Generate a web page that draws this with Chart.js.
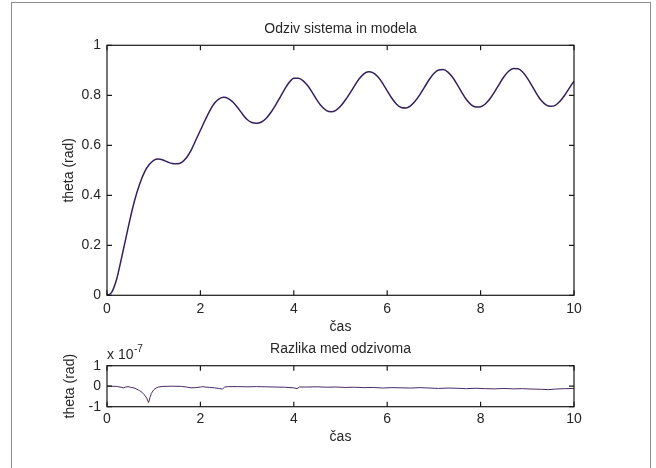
<!DOCTYPE html>
<html><head><meta charset="utf-8">
<script src="https://cdn.jsdelivr.net/npm/chart.js@4/dist/chart.umd.min.js"></script>
<style>
html,body{margin:0;padding:0;background:#fff;overflow:hidden;width:656px;height:468px;}
#frame{position:absolute;left:11px;top:2px;width:640px;height:520px;border:1px solid #8c8c8c;box-sizing:border-box;}
#c1{position:absolute;left:0;top:0;}
#c2{position:absolute;left:0;top:340px;}
</style></head><body>
<div id="frame"></div>
<canvas id="c1" width="656" height="340"></canvas>
<canvas id="c2" width="656" height="128"></canvas>
<script>
// ---- data ----
const responseTime = [
 0.0,0.1,0.2,0.3,0.4,0.5,0.6,0.7,0.8,0.9,
 1.0,1.1,1.2,1.3,1.4,1.5,1.6,1.7,1.8,1.9,
 2.0,2.1,2.2,2.3,2.4,2.5,2.6,2.7,2.8,2.9,
 3.0,3.1,3.2,3.3,3.4,3.5,3.6,3.7,3.8,3.9,
 4.0,4.1,4.2,4.3,4.4,4.5,4.6,4.7,4.8,4.9,
 5.0,5.1,5.2,5.3,5.4,5.5,5.6,5.7,5.8,5.9,
 6.0,6.1,6.2,6.3,6.4,6.5,6.6,6.7,6.8,6.9,
 7.0,7.1,7.2,7.3,7.4,7.5,7.6,7.7,7.8,7.9,
 8.0,8.1,8.2,8.3,8.4,8.5,8.6,8.7,8.8,8.9,
 9.0,9.1,9.2,9.3,9.4,9.5,9.6,9.7,9.8,9.9,
 10.0];
const responseTheta = [
 0.000,0.012,0.060,0.140,0.225,0.310,0.385,0.445,0.492,0.522,
 0.540,0.545,0.541,0.533,0.527,0.526,0.532,0.550,0.580,0.620,
 0.660,0.700,0.738,0.768,0.786,0.792,0.787,0.772,0.750,0.725,
 0.703,0.691,0.688,0.692,0.706,0.729,0.758,0.790,0.823,0.851,
 0.868,0.868,0.858,0.838,0.810,0.780,0.755,0.739,0.734,0.740,
 0.756,0.780,0.808,0.838,0.866,0.886,0.894,0.890,0.874,0.849,
 0.818,0.788,0.764,0.751,0.749,0.758,0.777,0.803,0.833,0.863,
 0.887,0.901,0.903,0.893,0.872,0.843,0.811,0.782,0.762,0.753,
 0.754,0.765,0.786,0.814,0.845,0.874,0.896,0.907,0.906,0.893,
 0.869,0.838,0.806,0.779,0.762,0.756,0.760,0.776,0.800,0.829,
 0.857];
// difference, in units of 1e-7 rad
const diffTime = [
 0.0,0.1,0.2,0.3,0.35,0.4,0.45,0.5,0.6,0.7,0.75,0.8,0.85,0.89,0.92,0.95,1.0,1.05,1.1,1.2,
 1.4,1.6,1.7,1.8,1.9,2.0,2.05,2.1,2.2,2.3,2.4,2.47,2.52,2.6,2.8,3.0,3.2,3.4,3.6,3.8,
 4.0,4.07,4.12,4.3,4.5,4.7,4.9,5.1,5.3,5.5,5.7,5.9,6.1,6.3,6.5,6.7,6.9,7.1,7.3,7.5,
 7.7,7.9,8.1,8.3,8.5,8.7,8.9,9.1,9.3,9.45,9.6,9.8,10.0];
const diffValue = [
 0.00,0.00,-0.01,-0.05,-0.08,-0.04,-0.02,-0.05,-0.10,-0.22,-0.30,-0.42,-0.58,-0.80,-0.55,-0.35,-0.18,-0.09,-0.04,-0.01,
 0.00,-0.01,-0.04,-0.08,-0.07,-0.04,-0.02,-0.04,-0.06,-0.08,-0.11,-0.14,-0.04,-0.02,-0.02,-0.03,-0.02,-0.03,-0.04,-0.05,
 -0.08,-0.12,-0.04,-0.04,-0.03,-0.05,-0.04,-0.06,-0.05,-0.07,-0.06,-0.09,-0.07,-0.08,-0.09,-0.07,-0.09,-0.11,-0.09,-0.10,
 -0.12,-0.10,-0.12,-0.13,-0.11,-0.13,-0.12,-0.14,-0.15,-0.17,-0.14,-0.12,-0.11];
const xTicks = [0,2,4,6,8,10];
const topYTicks = [0,0.2,0.4,0.6,0.8,1];
const bottomYTicks = [-1,0,1];

const FONT = "'Liberation Sans', Arial, Helvetica, sans-serif";
const TXT = '#262626';

const boxTicks = {
  id: 'boxTicks',
  afterDraw(chart) {
    const {ctx, chartArea: {left, right, top, bottom}, scales: {x, y}} = chart;
    ctx.save();
    ctx.strokeStyle = '#1a1a1a';
    ctx.lineWidth = 1.2;
    const L = 5;
    ctx.beginPath();
    x.ticks.forEach(t => {
      const px = x.getPixelForValue(t.value);
      ctx.moveTo(px, bottom); ctx.lineTo(px, bottom - L);
      ctx.moveTo(px, top); ctx.lineTo(px, top + L);
    });
    y.ticks.forEach(t => {
      const py = y.getPixelForValue(t.value);
      ctx.moveTo(left, py); ctx.lineTo(left + L, py);
      ctx.moveTo(right, py); ctx.lineTo(right - L, py);
    });
    ctx.stroke();
    ctx.strokeRect(left, top, right - left, bottom - top);
    ctx.restore();
  }
};

const exponentLabel = {
  id: 'exponentLabel',
  afterDraw(chart) {
    const {ctx, chartArea: {left, top}} = chart;
    ctx.save();
    ctx.fillStyle = TXT;
    ctx.textBaseline = 'alphabetic';
    ctx.textAlign = 'left';
    ctx.font = '14px ' + FONT;
    const base = 'x 10';
    ctx.fillText(base, left, top - 7);
    const w = ctx.measureText(base).width;
    ctx.font = '10px ' + FONT;
    ctx.fillText('-7', left + w + 0.5, top - 13.5);
    ctx.restore();
  }
};

function makeChart(id, opts) {
  const points = opts.xs.map((v, i) => ({x: v, y: opts.ys[i]}));
  return new Chart(document.getElementById(id), {
    type: 'line',
    data: { datasets: [{
      data: points,
      borderColor: opts.color,
      borderWidth: opts.lw,
      pointRadius: 0,
      fill: false,
      tension: opts.tension,
      cubicInterpolationMode: opts.tension ? 'monotone' : 'default'
    }]},
    options: {
      responsive: false,
      animation: false,
      devicePixelRatio: 1,
      events: [],
      layout: { padding: { left: 0, right: 82, top: 0, bottom: 0 } },
      plugins: {
        legend: { display: false },
        tooltip: { enabled: false },
        title: {
          display: true, text: opts.title, color: TXT, fullSize: false,
          font: { family: FONT, size: 14, weight: 'normal', lineHeight: 1.2 },
          padding: opts.titlePad
        }
      },
      scales: {
        x: {
          type: 'linear', min: 0, max: 10,
          afterBuildTicks: s => { s.ticks = xTicks.map(v => ({value: v})); },
          afterFit: s => { s.height = opts.xHeight; },
          grid: { display: false, drawTicks: false },
          border: { display: false },
          ticks: { color: TXT, padding: opts.xTickPad, maxRotation: 0, font: { family: FONT, size: 14 } },
          title: { display: true, text: 'čas', color: TXT, font: { family: FONT, size: 14 }, padding: { top: 0, bottom: opts.xTitlePad } }
        },
        y: {
          type: 'linear', min: opts.ymin, max: opts.ymax,
          afterBuildTicks: s => { s.ticks = opts.yTicks.map(v => ({value: v})); },
          afterFit: s => { s.width = 107; },
          grid: { display: false, drawTicks: false },
          border: { display: false },
          ticks: { color: TXT, padding: 6, font: { family: FONT, size: 14 }, callback: v => String(v) },
          title: { display: true, text: 'theta (rad)', color: TXT, font: { family: FONT, size: 14 }, padding: { top: opts.yTitlePad, bottom: 0 } }
        }
      }
    },
    plugins: opts.plugins
  });
}

makeChart('c1', {
  xs: responseTime, ys: responseTheta, color: '#33205c', lw: 1.5, tension: 0.4,
  title: 'Odziv sistema in modela', titlePad: { top: 21, bottom: 7.5 },
  xHeight: 44.7, xTickPad: 5, xTitlePad: 4.8, yTitlePad: 61,
  ymin: 0, ymax: 1, yTicks: topYTicks, plugins: [boxTicks]
});

makeChart('c2', {
  xs: diffTime, ys: diffValue, color: '#4a2a66', lw: 1, tension: 0,
  title: 'Razlika med odzivoma', titlePad: { top: 1, bottom: 7.9 },
  xHeight: 61.3, xTickPad: 4, xTitlePad: 22, yTitlePad: 62,
  ymin: -1, ymax: 1, yTicks: bottomYTicks, plugins: [boxTicks, exponentLabel]
});
</script></body></html>
